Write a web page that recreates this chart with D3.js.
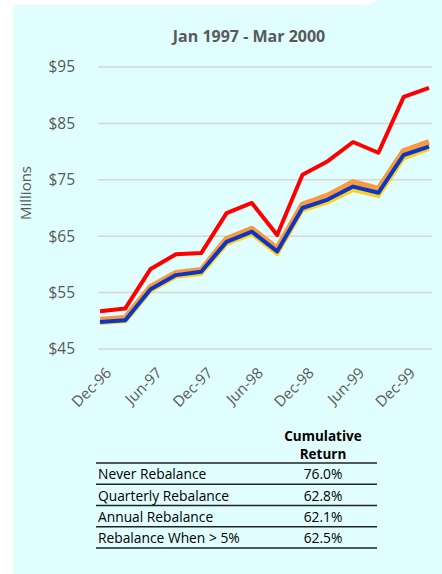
<!DOCTYPE html>
<html>
<head>
<meta charset="utf-8">
<script src="https://cdn.jsdelivr.net/npm/d3@7"></script>
<style>
  body { margin: 0; background: #fff; }
  svg { display: block; font-family: 'Open Sans', sans-serif; }
</style>
</head>
<body>
<svg width="442" height="574"></svg>
<script>
const dates = ['Dec-96', 'Mar-97', 'Jun-97', 'Sep-97', 'Dec-97', 'Mar-98', 'Jun-98',
    'Sep-98', 'Dec-98', 'Mar-99', 'Jun-99', 'Sep-99', 'Dec-99', 'Mar-00'];
const neverVals = [51.7, 52.2, 59.2, 61.8, 62.0, 69.1, 70.9, 65.2, 75.9, 78.3, 81.7, 79.8, 89.7, 91.3];
const quarterlyVals = [50.2, 50.5, 56.0, 58.5, 59.0, 64.5, 66.3, 62.8, 70.6, 72.2, 74.6, 73.4, 80.1, 81.7];
const annualVals = [49.6, 49.9, 55.3, 57.8, 58.3, 63.6, 65.4, 61.8, 69.6, 71.0, 73.2, 72.1, 78.8, 80.5];
const bandVals = [49.8, 50.1, 55.6, 58.1, 58.7, 64.0, 65.8, 62.3, 70.0, 71.5, 73.8, 72.7, 79.4, 80.9];
const yTicks = [45, 55, 65, 75, 85, 95];
const xTickLabels = ['Dec-96', 'Jun-97', 'Dec-97', 'Jun-98', 'Dec-98', 'Jun-99', 'Dec-99'];

const tableLabels = ['Never Rebalance', 'Quarterly Rebalance', 'Annual Rebalance', 'Rebalance When > 5%'];
const tableReturns = ['76.0%', '62.8%', '62.1%', '62.5%'];

// drawing order: back to front
const series = [
    { name: 'Quarterly', values: quarterlyVals, color: '#f79a40', width: 6 },
    { name: 'Annual', values: annualVals, color: '#ffd21a', width: 4 },
    { name: 'Band', values: bandVals, color: '#0a37c8', width: 4 },
    { name: 'Never', values: neverVals, color: '#ff0000', width: 4 }
];

const svg = d3.select('svg');

// background panel
svg.append('polygon')
    .attr('points', '13,5 368,5 378,0 442,0 442,574 13,574')
    .attr('fill', '#e1fefe');

const x = d3.scalePoint().domain(dates).range([100, 429]);
const y = d3.scaleLinear().domain([45, 95]).range([349, 67]);

// gridlines
svg.append('g')
    .selectAll('line')
    .data(yTicks)
    .enter()
    .append('line')
    .attr('x1', 98)
    .attr('x2', 432)
    .attr('y1', d => y(d))
    .attr('y2', d => y(d))
    .attr('stroke', '#d6d6d6')
    .attr('stroke-width', 1.5);

// y axis labels
const yAxis = d3.axisLeft(y).tickValues(yTicks).tickSize(0).tickPadding(0)
    .tickFormat(d => '$' + d);
svg.append('g')
    .attr('transform', 'translate(75,0)')
    .call(yAxis)
    .call(g => g.select('.domain').remove())
    .selectAll('text')
    .attr('fill', '#595959')
    .attr('font-size', 15.5)
    .attr('font-family', "'Open Sans', sans-serif");

// x axis labels
const xAxis = d3.axisBottom(x).tickValues(xTickLabels).tickSize(0);
svg.append('g')
    .attr('transform', 'translate(0,368)')
    .call(xAxis)
    .call(g => g.select('.domain').remove())
    .selectAll('text')
    .attr('fill', '#595959')
    .attr('font-size', 15)
    .attr('font-family', "'Open Sans', sans-serif")
    .attr('text-anchor', 'end')
    .attr('dy', '0.35em')
    .attr('transform', d => `translate(6,0) rotate(-45)`);

// title
svg.append('text')
    .attr('x', 249)
    .attr('y', 42)
    .attr('text-anchor', 'middle')
    .attr('font-size', 16)
    .attr('font-weight', 'bold')
    .attr('fill', '#595959')
    .text('Jan 1997 - Mar 2000');

svg.append('text')
    .attr('transform', 'translate(31,193) rotate(-90)')
    .attr('text-anchor', 'middle')
    .attr('font-size', 15)
    .attr('fill', '#595959')
    .text('Millions');

// lines
const line = d3.line()
    .x((d, i) => x(dates[i]))
    .y(d => y(d));

svg.append('g')
    .selectAll('path')
    .data(series)
    .enter()
    .append('path')
    .attr('d', d => line(d.values))
    .attr('fill', 'none')
    .attr('stroke', d => d.color)
    .attr('stroke-width', d => d.width)
    .attr('stroke-linejoin', 'round');

// table
const table = svg.append('g').attr('fill', '#000').attr('font-size', 13.8);
table.append('text')
    .attr('x', 323).attr('y', 441)
    .attr('text-anchor', 'middle')
    .attr('font-weight', 'bold')
    .attr('font-size', 13.5)
    .text('Cumulative');
table.append('text')
    .attr('x', 323).attr('y', 459)
    .attr('text-anchor', 'middle')
    .attr('font-weight', 'bold')
    .attr('font-size', 13.5)
    .text('Return');

const rowY = d3.scaleBand().domain(tableLabels).range([463, 548]);

table.append('line')
    .attr('x1', 96).attr('x2', 377)
    .attr('y1', 463).attr('y2', 463)
    .attr('stroke', '#222').attr('stroke-width', 1.5);

const rows = table.selectAll('.row')
    .data(tableLabels)
    .enter()
    .append('g')
    .classed('row', true);

rows.append('text')
    .attr('x', 98)
    .attr('y', d => rowY(d) + rowY.bandwidth() - 5)
    .text(d => d);

rows.append('text')
    .attr('x', 323)
    .attr('y', d => rowY(d) + rowY.bandwidth() - 5)
    .attr('text-anchor', 'middle')
    .text((d, i) => tableReturns[i]);

rows.append('line')
    .attr('x1', 96).attr('x2', 377)
    .attr('y1', d => rowY(d) + rowY.bandwidth())
    .attr('y2', d => rowY(d) + rowY.bandwidth())
    .attr('stroke', '#222').attr('stroke-width', 1.5);
</script>
</body>
</html>
